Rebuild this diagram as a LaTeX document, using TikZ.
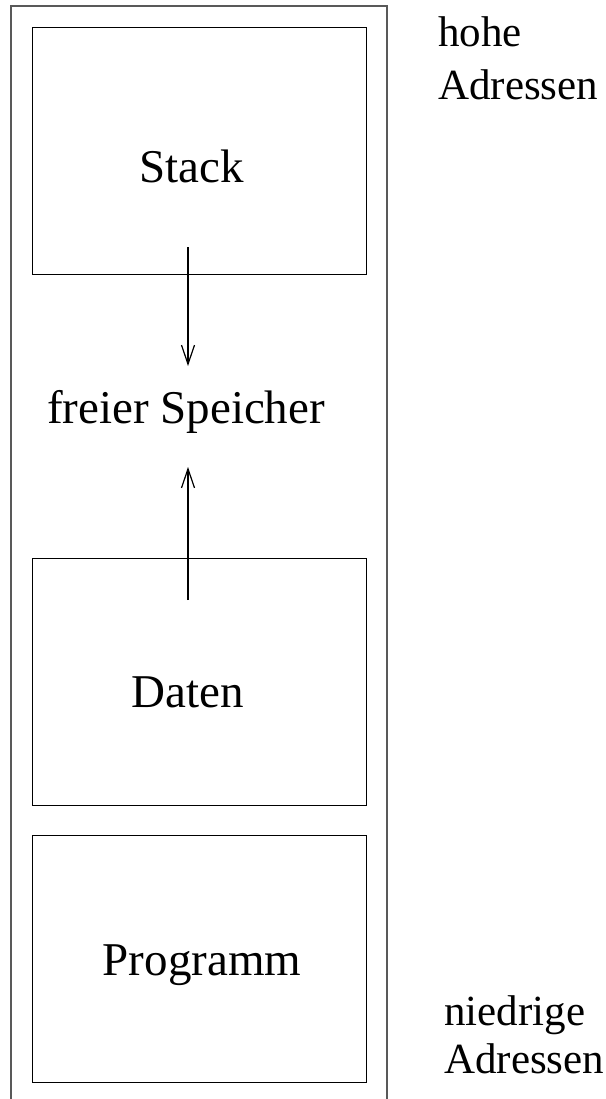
\documentclass[tikz,border=0pt]{standalone}
\usepackage{fontspec}
\setmainfont{Liberation Serif}
\usetikzlibrary{arrows.meta}

\tikzset{
  segment/.style={draw=black, line width=1.4pt, minimum width=334pt, minimum height=247pt, inner sep=0pt, anchor=north west},
  boxlabel/.style={font=\fontsize{47}{56}\selectfont, anchor=base, inner sep=0pt},
  sidelabel/.style={font=\fontsize{43}{52}\selectfont, anchor=base west, inner sep=0pt, align=left},
  growarrow/.style={line width=1.4pt, -{Straight Barb[length=19pt,width=13pt,line width=1.2pt]}}
}

\begin{document}
\begin{tikzpicture}[x=1pt, y=-1pt]
				\useasboundingbox (0,0) rectangle (605,1099);
				% memory outline (open at the bottom)
				\draw [line width=1.6pt, black!65] (11,1110) -- (11,6) -- (387,6) -- (387,1110);
				\node [segment] (stack) at (32,27) {};
				\node [segment] (daten) at (32,558) {};
				\node [segment] (prog) at (32,835) {};
				\node [boxlabel] (stacktxt) at (192,183) {Stack};
				\node [boxlabel] (freetxt) at (186,423) {freier Speicher};
				\node [boxlabel] (datentxt) at (188,707) {Daten};
				\node [boxlabel] (progtxt) at (202,975) {Programm};
				\node [sidelabel] (hoch) at (438,100) {hohe\\[1pt]Adressen};
				\node [sidelabel] (nieder) at (444,1073) {niedrige\\[-4pt]Adressen};
				% stack grows down, data grows up
				\coordinate (stackend) at (188,247);
				\coordinate (stacktip) at (188,366);
				\coordinate (datenend) at (188,600);
				\coordinate (datentip) at (188,467);
				\draw [growarrow] (stackend) -- (stacktip);
				\draw [growarrow] (datenend) -- (datentip);
			\end{tikzpicture}
\end{document}
